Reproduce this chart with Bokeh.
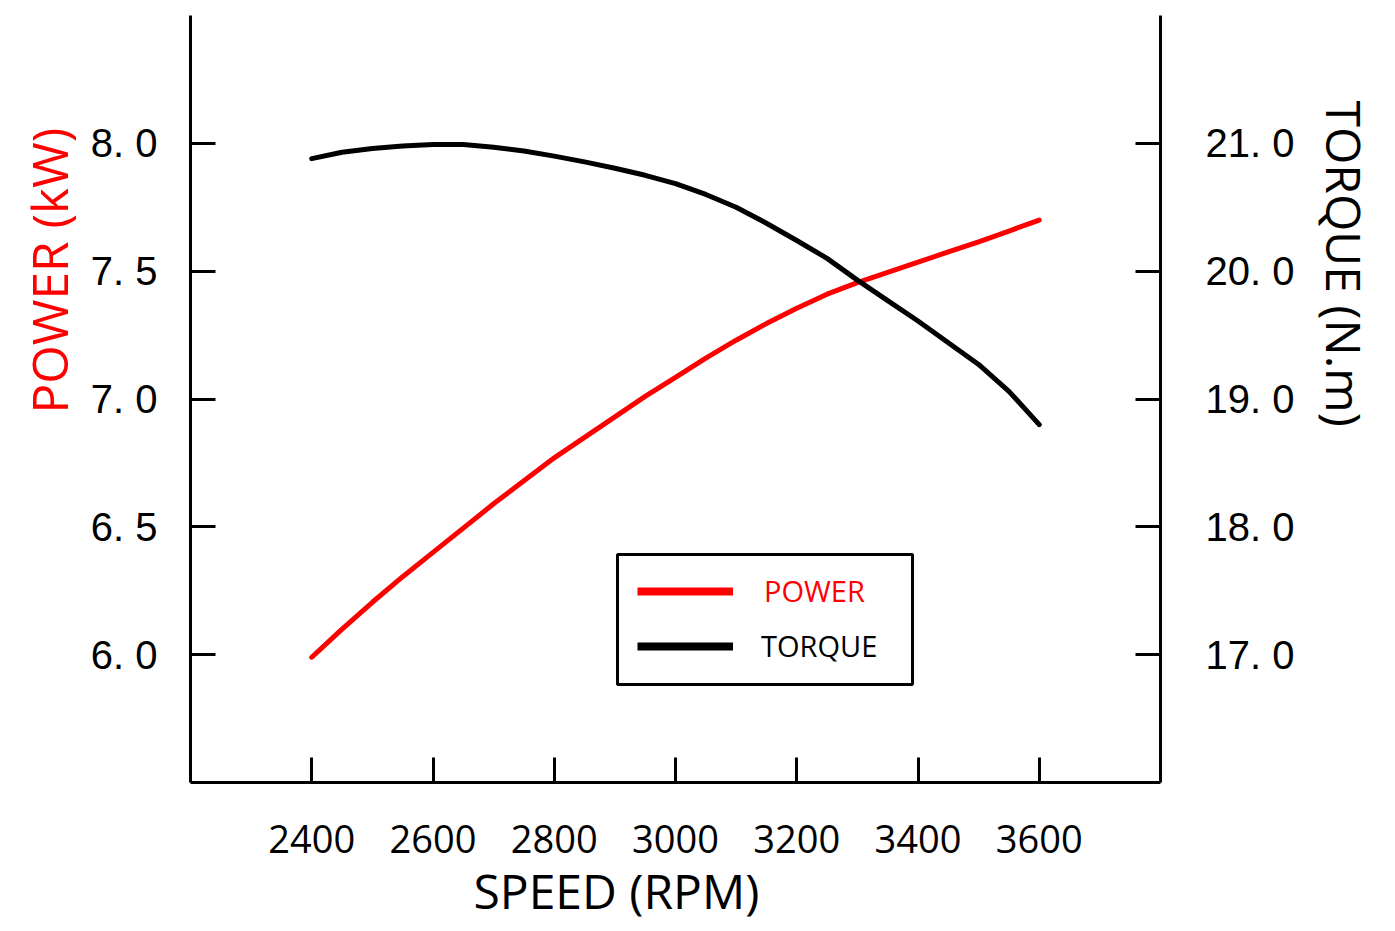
from bokeh.plotting import figure
from bokeh.models import (Range1d, LinearAxis, FixedTicker, CustomJSTickFormatter,
                          Legend, LegendItem, Title, BoxAnnotation)
from bokeh.embed import file_html
from bokeh.resources import INLINE

# ---- data ----
speed_rpm = [2400, 2450, 2500, 2550, 2600, 2650, 2700, 2750, 2800, 2850, 2900, 2950, 3000,
             3050, 3100, 3150, 3200, 3250, 3300, 3350, 3400, 3450, 3500, 3550, 3600]
power_kw = [5.99, 6.10, 6.205, 6.305, 6.40, 6.495, 6.59, 6.68, 6.77, 6.85, 6.93, 7.01, 7.085,
            7.16, 7.23, 7.295, 7.355, 7.41, 7.455, 7.495, 7.535, 7.575, 7.615, 7.657, 7.70]
torque_nm = [20.88, 20.93, 20.96, 20.98, 20.99, 20.99, 20.97, 20.94, 20.90, 20.855, 20.805, 20.75, 20.685,
             20.60, 20.50, 20.375, 20.24, 20.10, 19.93, 19.77, 19.61, 19.44, 19.27, 19.06, 18.80]

speed_ticks = [2400, 2600, 2800, 3000, 3200, 3400, 3600]
power_ticks = [6.0, 6.5, 7.0, 7.5, 8.0]
torque_ticks = [17.0, 18.0, 19.0, 20.0, 21.0]

x_title = "SPEED (RPM)"
left_title = "POWER (kW)"
right_title = "TORQUE (N.m)"
legend_labels = ["POWER", "TORQUE"]

RED = "#ff0000"
BLACK = "#000000"

p = figure(width=1395, height=931,
           min_border_left=190, min_border_right=235, min_border_top=15, min_border_bottom=149,
           x_range=Range1d(2200, 3800), y_range=Range1d(5.5, 8.5),
           output_backend="svg", toolbar_location=None, tools="")
p.extra_y_ranges = {"torque": Range1d(16.0, 22.0)}
p.outline_line_color = None
p.xgrid.visible = False
p.ygrid.visible = False
p.background_fill_color = "white"
p.border_fill_color = "white"

right_axis = LinearAxis(y_range_name="torque")
p.add_layout(right_axis, "right")


def style_axis(ax, ticks, font, size, standoff):
    ax.ticker = FixedTicker(ticks=ticks)
    ax.axis_line_width = 3
    ax.axis_line_color = BLACK
    ax.major_tick_line_width = 3
    ax.major_tick_line_color = BLACK
    ax.major_tick_in = 25
    ax.major_tick_out = 0
    ax.minor_tick_line_color = None
    ax.major_label_text_font = font
    ax.major_label_text_font_size = size
    ax.major_label_text_color = BLACK
    ax.major_label_standoff = standoff


style_axis(p.xaxis[0], speed_ticks, "Open Sans", "38px", 42)
style_axis(p.yaxis[0], power_ticks, "Liberation Sans", "40px", 33)
style_axis(right_axis, torque_ticks, "Liberation Sans", "40px", 45)
p.yaxis[0].formatter = CustomJSTickFormatter(code="return tick.toFixed(1).replace('.', '. ');")
right_axis.formatter = CustomJSTickFormatter(code="return tick.toFixed(1).replace('.', '. ');")

# ---- curves ----
p.line(speed_rpm, power_kw, line_color=RED, line_width=5, line_cap="round", line_join="round")
p.line(speed_rpm, torque_nm, y_range_name="torque", line_color=BLACK, line_width=5,
       line_cap="round", line_join="round")

# legend sample renderers (nothing drawn in the plot area)
nan = float("nan")
lp = p.line(x=[nan], y=[nan], line_color=RED, line_width=8)
lt = p.line(x=[nan], y=[nan], line_color=BLACK, line_width=8)

# legend frame
box = BoxAnnotation(left=427, right=722, top=228, bottom=98,
                    left_units="screen", right_units="screen",
                    top_units="screen", bottom_units="screen",
                    fill_color="white", fill_alpha=1.0,
                    line_color=BLACK, line_width=3, line_alpha=1.0)
p.add_layout(box)

for label, rend, color, loc, std in [(legend_labels[0], lp, RED, (447, 172), 31),
                                     (legend_labels[1], lt, BLACK, (447, 117), 28)]:
    lg = Legend(items=[LegendItem(label=label, renderers=[rend])], location=loc,
                glyph_width=96, glyph_height=30, label_height=30, label_standoff=std,
                padding=0, margin=0, spacing=0, border_line_color=None,
                background_fill_alpha=0, label_text_font="Open Sans",
                label_text_font_size="29px", label_text_color=color)
    p.add_layout(lg)

# ---- axis titles ----
p.add_layout(Title(text=left_title, align="left", offset=369, standoff=10,
                   text_font="Open Sans", text_font_size="49.5px", text_font_style="normal",
                   text_color=RED), "left")
p.add_layout(Title(text=right_title, align="left", offset=85, standoff=28,
                   text_font="Open Sans", text_font_size="48px", text_font_style="normal",
                   text_color=BLACK), "right")
p.add_layout(Title(text=x_title, align="left", offset=283, standoff=0,
                   text_font="Open Sans", text_font_size="48px", text_font_style="normal",
                   text_color=BLACK), "below")

open("out.html", "w").write(file_html(p, INLINE))
